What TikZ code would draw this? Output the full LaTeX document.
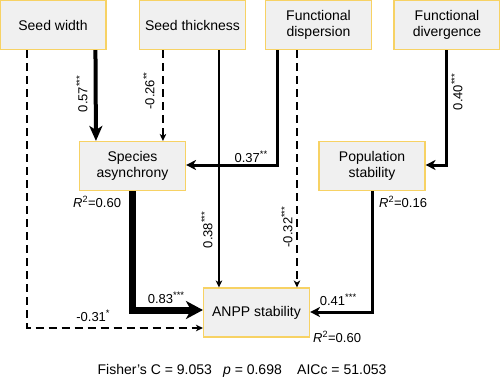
\documentclass[tikz,border=0pt]{standalone}
\usepackage{fontspec}
\setmainfont{Liberation Sans}
\usetikzlibrary{arrows.meta,calc}
\definecolor{boxborder}{RGB}{247,210,100}
\definecolor{boxfill}{RGB}{240,240,240}
\newcommand{\mystars}[1]{\raisebox{4.5pt}{\fontsize{9.5}{9.5}\selectfont #1}}
\begin{document}
\begin{tikzpicture}[x=1pt,y=-1pt,
  box/.style={draw=boxborder,fill=boxfill,line width=1.1pt,minimum width=106pt,minimum height=49pt,align=center,font=\fontsize{14}{16.5}\selectfont,inner sep=0pt},
  lab/.style={font=\fontsize{13}{15}\selectfont,inner sep=0pt},
  tipS/.style={-{Stealth[length=7pt,width=6.5pt,inset=2pt]}},
  tipM/.style={-{Stealth[length=10pt,width=10pt,inset=3pt]}},
  tipL/.style={-{Stealth[length=15pt,width=13pt,inset=4pt]}},
  tipXL/.style={-{Stealth[length=17pt,width=18pt,inset=5pt]}},
  dsh/.style={dash pattern=on 8pt off 5pt}
]
\useasboundingbox (0,0) rectangle (500,388);
\node[box] (SW) at (53,25) {Seed width};
\node[box] (ST) at (192.5,25) {Seed thickness};
\node[box] (FDisp) at (318.5,25) {Functional\\dispersion};
\node[box] (FDiv) at (447,25) {Functional\\divergence};
\node[box] (SA) at (132.5,166) {Species\\asynchrony};
\node[box] (Pop) at (372,166) {Population\\stability};
\node[box] (ANPP) at (256.5,312.5) {ANPP stability};

% connectors
\draw[dsh,line width=2pt,tipS] ($(SW.south west)+(28,0)$) |- ($(ANPP.west)+(0,15.5)$);
\draw[line width=4pt,tipL] ($(SW.south west)+(96,0)$) -- ($(SA.north west)+(17,0)$);
\draw[dsh,line width=1.7pt,tipS] ($(ST.south west)+(24,0)$) -- ($(SA.north west)+(84,0)$);
\draw[line width=2pt,tipS] ($(ST.south west)+(80,0)$) -- ($(ANPP.north west)+(16,0)$);
\draw[line width=3pt,tipM] ($(FDisp.south west)+(13,0)$) |- ($(SA.east)+(0,-1)$);
\draw[dsh,line width=2.5pt,tipS] ($(FDisp.south west)+(32,0)$) -- ($(ANPP.north west)+(94,0)$);
\draw[line width=3pt,tipM] ($(FDiv.south west)+(53,0)$) |- ($(Pop.east)+(0,-1)$);
\draw[line width=7pt,tipXL] (SA.south) |- ($(ANPP.west)+(0,-2.5)$);
\draw[line width=3pt,tipM] (Pop.south) |- ($(ANPP.east)+(0,-0.5)$);

% path labels
\node[lab,rotate=90] (l1) at (82,94) {0.57\mystars{***}};
\node[lab,rotate=90] (l2) at (149,91) {-0.26\mystars{**}};
\node[lab] (l3) at (251,157) {0.37\mystars{**}};
\node[lab,rotate=90] (l4) at (457,92) {0.40\mystars{***}};
\node[lab,rotate=90] (l5) at (207,230) {0.38\mystars{***}};
\node[lab,rotate=90] (l6) at (287,227) {-0.32\mystars{***}};
\node[lab] (l7) at (166,298) {0.83\mystars{***}};
\node[lab] (l8) at (93,316) {-0.31\mystars{*}};
\node[lab] (l9) at (338,300) {0.41\mystars{***}};

% R2 labels
\node[lab,anchor=west] (r1) at (73,202) {\textit{R}\textsuperscript{2}=0.60};
\node[lab,anchor=west] (r2) at (379,202) {\textit{R}\textsuperscript{2}=0.16};
\node[lab,anchor=west] (r3) at (313,337) {\textit{R}\textsuperscript{2}=0.60};

% fit statistics
\node[font=\fontsize{14}{16}\selectfont,inner sep=0pt] (fit) at (242,371) {Fisher’s C = 9.053\hspace{0.8em}\textit{p} = 0.698\hspace{1.1em}AICc = 51.053};
\end{tikzpicture}
\end{document}
